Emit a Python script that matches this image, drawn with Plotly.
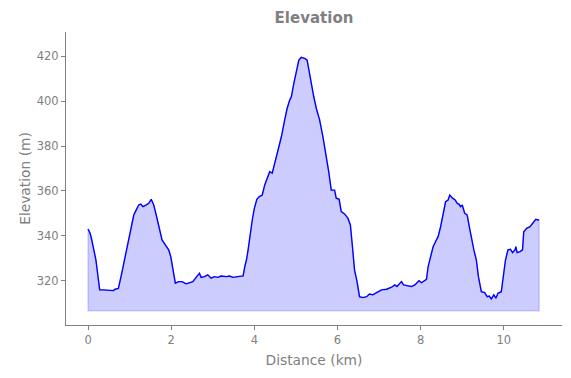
import plotly.graph_objects as go

distance_km = [0.00, 0.05, 0.09, 0.13, 0.19, 0.23, 0.28, 0.37, 0.49, 0.61, 0.65, 0.73, 0.81, 0.90, 0.97,
               1.02, 1.10, 1.16, 1.22, 1.27, 1.32, 1.40, 1.46, 1.52, 1.58, 1.64, 1.70, 1.78, 1.86, 1.94,
               1.99, 2.04, 2.10, 2.18, 2.26, 2.36, 2.44, 2.52, 2.60, 2.68, 2.72, 2.80, 2.88, 2.96, 3.04,
               3.12, 3.20, 3.33, 3.40, 3.49, 3.60, 3.73, 3.77, 3.81, 3.85, 3.90, 3.95, 4.00, 4.06, 4.12,
               4.19, 4.25, 4.30, 4.37, 4.43, 4.49, 4.57, 4.65, 4.73, 4.79, 4.85, 4.89, 4.95, 5.01, 5.07,
               5.13, 5.21, 5.27, 5.31, 5.37, 5.43, 5.49, 5.57, 5.65, 5.73, 5.79, 5.85, 5.93, 5.97, 6.04,
               6.09, 6.17, 6.25, 6.31, 6.36, 6.41, 6.47, 6.53, 6.61, 6.70, 6.77, 6.85, 6.94, 7.06, 7.18,
               7.30, 7.38, 7.43, 7.54, 7.59, 7.70, 7.78, 7.86, 7.96, 8.02, 8.10, 8.14, 8.18, 8.24, 8.30,
               8.36, 8.42, 8.48, 8.54, 8.60, 8.66, 8.70, 8.77, 8.83, 8.88, 8.92, 8.96, 9.00, 9.06, 9.12,
               9.17, 9.22, 9.28, 9.34, 9.39, 9.46, 9.54, 9.60, 9.65, 9.70, 9.76, 9.81, 9.86, 9.94, 9.98,
               10.04, 10.10, 10.16, 10.21, 10.27, 10.29, 10.32, 10.39, 10.45, 10.48, 10.55, 10.63, 10.69,
               10.77, 10.83, 10.85]
elevation_m = [343.1, 341.2, 338.2, 335.2, 329.3, 323.4, 316.0, 316.0, 316.0, 315.7, 316.3, 316.7, 323.4, 331.6, 339.0,
               342.7, 349.3, 351.6, 353.8, 354.2, 353.0, 353.8, 354.5, 356.3, 353.8, 349.3, 344.1, 338.2, 336.0, 333.8,
               330.8, 325.6, 319.0, 319.7, 319.7, 318.7, 319.2, 319.7, 321.6, 323.4, 321.6, 321.9, 322.7, 321.2, 321.9,
               321.6, 322.2, 321.9, 322.2, 321.6, 321.9, 322.2, 326.4, 329.3, 333.8, 341.2, 347.1, 352.3, 356.3, 357.5,
               358.2, 362.7, 364.9, 368.6, 367.9, 372.3, 378.2, 384.1, 391.6, 396.8, 400.4, 401.9, 407.9, 413.0, 418.2,
               419.4, 419.0, 418.2, 413.8, 407.9, 401.9, 396.8, 391.6, 384.1, 376.0, 368.5, 360.4, 360.4, 356.8, 356.3,
               350.8, 349.8, 347.9, 344.9, 335.2, 324.9, 319.7, 313.0, 312.6, 313.0, 314.2, 313.8, 314.8, 316.0, 316.3,
               317.2, 318.2, 317.5, 319.7, 318.2, 317.8, 317.5, 318.2, 320.1, 319.2, 320.4, 320.7, 326.4, 331.6, 335.2,
               337.5, 339.7, 344.1, 350.1, 355.2, 356.0, 358.2, 356.8, 356.0, 354.5, 354.2, 353.0, 353.8, 350.1, 349.3,
               344.1, 339.0, 333.8, 329.3, 321.9, 315.2, 314.8, 313.0, 313.3, 312.0, 313.8, 312.3, 314.5, 315.2, 320.4,
               329.3, 333.8, 334.1, 332.6, 333.8, 335.2, 332.6, 333.0, 333.8, 341.9, 343.4, 344.1, 345.6,
               347.4, 347.1, 347.1]
fill_base_m = 306.7
x_ticks = [0, 2, 4, 6, 8, 10]
y_ticks = [320, 340, 360, 380, 400, 420]

GRAY = "#808080"
FONT = "DejaVu Sans"

poly_x = distance_km + [distance_km[-1], distance_km[0], distance_km[0]]
poly_y = elevation_m + [fill_base_m, fill_base_m, elevation_m[0]]

fig = go.Figure()
fig.add_trace(go.Scatter(x=poly_x, y=poly_y, mode="lines", fill="toself",
                         fillcolor="rgba(0,0,255,0.2)",
                         line=dict(color="rgba(0,0,255,0.2)", width=1.2),
                         hoverinfo="skip", showlegend=False))
fig.add_trace(go.Scatter(x=distance_km, y=elevation_m, mode="lines",
                         line=dict(color="blue", width=1.4), showlegend=False))

fig.update_layout(
    width=571, height=378,
    margin=dict(l=58, r=17, t=24, b=61),
    paper_bgcolor="white", plot_bgcolor="white",
    font=dict(family=FONT, color=GRAY, size=11.5),
    title=dict(text="<b>Elevation</b>", x=0.5, xref="paper", y=1 - 10 / 378, yref="container",
               xanchor="center", yanchor="middle", font=dict(family=FONT, size=15, color=GRAY)),
    xaxis=dict(range=[-0.53, 11.4], tickvals=x_ticks, ticktext=[str(v) for v in x_ticks],
               showgrid=False, zeroline=False, showline=True, linecolor=GRAY, linewidth=1,
               ticks="outside", ticklen=4, tickcolor=GRAY, tickwidth=1,
               tickfont=dict(family=FONT, size=11.5, color=GRAY),
               title=dict(text="Distance (km)", standoff=9, font=dict(family=FONT, size=13.8, color=GRAY))),
    yaxis=dict(range=[300.4, 430.7], tickvals=y_ticks, ticktext=[str(v) for v in y_ticks],
               showgrid=False, zeroline=False, showline=True, linecolor=GRAY, linewidth=1,
               ticks="outside", ticklen=4, tickcolor=GRAY, tickwidth=1,
               tickfont=dict(family=FONT, size=11.5, color=GRAY),
               title=dict(text="Elevation (m)", standoff=2, font=dict(family=FONT, size=13.8, color=GRAY))),
)

fig.write_html("out.html")
